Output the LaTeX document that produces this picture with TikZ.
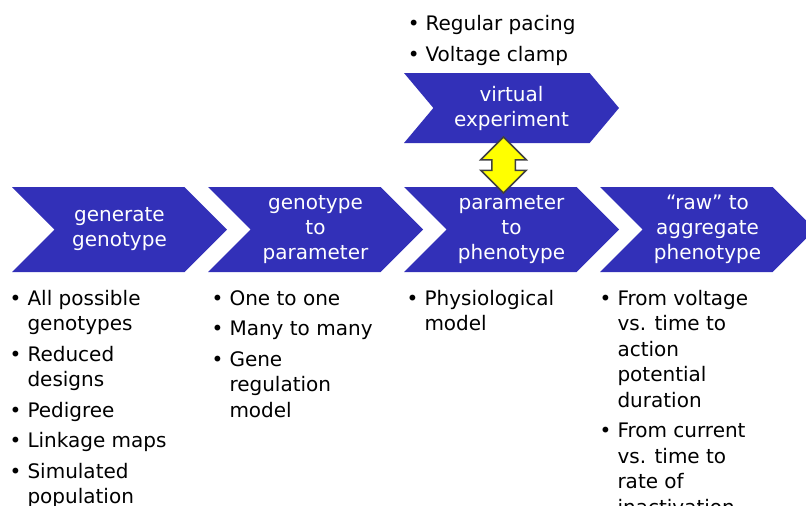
\documentclass[tikz,border=0pt]{standalone}
\usepackage{fontspec}
\setmainfont{DejaVu Sans}
\usepackage{tikz}
\usetikzlibrary{shapes,shapes.symbols,shapes.arrows,positioning,calc}
\definecolor{stageblue}{RGB}{50,48,184}
\definecolor{linkyellow}{RGB}{255,255,0}
\newcommand{\stagefont}{\fontsize{20}{25}\selectfont}
\newcommand{\notefont}{\fontsize{20}{25.5}\selectfont}
\tikzstyle{stage} = [signal, signal from=west, signal to=east, signal pointer angle=90, minimum width=215pt, minimum height=85pt, inner sep=0pt, fill=stageblue, text=white, align=center, font=\stagefont]
\tikzstyle{notes} = [inner sep=0pt, align=left, font=\notefont]
\tikzstyle{link} = [double arrow, rotate=90, double arrow head extend=11pt, text height=11pt, text depth=11pt, minimum height=56pt, inner sep=0pt, fill=linkyellow, draw=black!75, line width=1.5pt]

\begin{document}
\begin{tikzpicture}[x=1pt, y=-1pt, node distance=196pt]
\useasboundingbox (0,0) rectangle (806,506);
% Pipeline stages
\node (step1) [stage] at (119.5,229.5) {generate\\genotype};
\node (step2) [stage, right of=step1] {genotype\\to\\parameter};
\node (step3) [stage, right of=step2] {parameter\\to\\phenotype};
\node (step4) [stage, right of=step3] {``raw'' to\\aggregate\\phenotype};

% Virtual experiment on top
\node (virt) [stage, above of=step3, node distance=121.5pt, minimum height=70pt, signal pointer angle=100] {virtual\\experiment};
\node (swap) [link] at ($(virt.south)!0.5!(step3.north)+(-8,0)$) {};

\node (notesv) [notes, above right=3pt and 4pt of virt.north west] {
\begin{tabular}{@{}l@{\hspace{6pt}}l@{}}
\textbullet & Regular pacing\\[6pt]
\textbullet & Voltage clamp
\end{tabular}
};

% Notes under each stage
\node (notes1) [notes, below right=15pt and -2pt of step1.south west] {
\begin{tabular}{@{}l@{\hspace{6pt}}l@{}}
\textbullet & All possible\\
 & genotypes\\[5pt]
\textbullet & Reduced\\
 & designs\\[5pt]
\textbullet & Pedigree\\[5pt]
\textbullet & Linkage maps\\[5pt]
\textbullet & Simulated\\
 & population
\end{tabular}
};

\node (notes2) [notes, below right=15pt and 4pt of step2.south west] {
\begin{tabular}{@{}l@{\hspace{6pt}}l@{}}
\textbullet & One to one\\[5pt]
\textbullet & Many to many\\[5pt]
\textbullet & Gene\\
 & regulation\\
 & model
\end{tabular}
};

\node (notes3) [notes, below right=15pt and 3pt of step3.south west] {
\begin{tabular}{@{}l@{\hspace{6pt}}l@{}}
\textbullet & Physiological\\
 & model
\end{tabular}
};

\node (notes4) [notes, below right=15pt and 0pt of step4.south west] {
\begin{tabular}{@{}l@{\hspace{6pt}}l@{}}
\textbullet & From voltage\\
 & vs. time to\\
 & action\\
 & potential\\
 & duration\\[5pt]
\textbullet & From current\\
 & vs. time to\\
 & rate of\\
 & inactivation
\end{tabular}
};
\end{tikzpicture}
\end{document}
